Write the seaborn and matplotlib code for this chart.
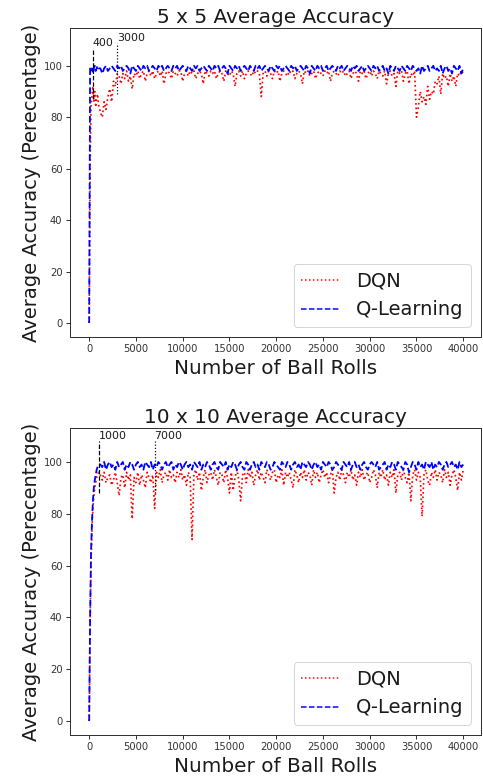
import numpy as np
import pandas as pd
import matplotlib
matplotlib.use("Agg")
import matplotlib.pyplot as plt
import seaborn as sns

# ---------------- data ----------------
early_x = [0, 100, 200, 300, 400, 500, 600, 700, 800, 900, 1000]
regular_x = list(range(1200, 40001, 200))
rolls = early_x + regular_x

dqn_5 = [0, 60, 85, 88, 92, 86, 90, 84, 87, 89, 85,
         82, 80, 86, 83, 88, 91, 86, 94, 92, 97,
         96, 93, 97, 95, 98, 94, 96, 91, 97, 96,
         98, 95, 97, 98, 94, 97, 98, 96, 98, 95,
         97, 98, 96, 98, 93, 97, 98, 97, 95, 98,
         97, 96, 98, 98, 94, 97, 98, 96, 98, 97,
         98, 95, 97, 98, 97, 93, 98, 97, 96, 98,
         97, 98, 95, 97, 98, 97, 94, 98, 97, 96,
         98, 97, 92, 97, 98, 96, 98, 95, 97, 98,
         97, 96, 98, 97, 98, 97, 88, 97, 98, 96,
         98, 97, 95, 98, 97, 98, 94, 97, 98, 97,
         96, 98, 97, 98, 95, 97, 98, 97, 93, 98,
         97, 98, 96, 97, 98, 95, 97, 98, 97, 96,
         98, 97, 98, 94, 97, 98, 97, 96, 98, 97,
         98, 96, 97, 98, 95, 97, 98, 97, 94, 98,
         97, 98, 95, 97, 98, 96, 98, 97, 95, 98,
         97, 96, 98, 93, 97, 98, 96, 97, 92, 98,
         97, 98, 94, 97, 98, 93, 97, 96, 98, 80,
         84, 90, 86, 88, 85, 92, 87, 90, 89, 94,
         93, 96, 89, 97, 95, 96, 92, 97, 94, 96,
         92, 97, 96, 98, 97]

qlearn_5 = [0, 99, 98, 99, 97, 99, 100, 98, 99, 100, 99,
            99, 97, 99, 100, 98, 99, 100, 99, 98, 100,
            99, 100, 98, 99, 100, 99, 97, 100, 99, 98,
            100, 99, 98, 100, 99, 100, 98, 99, 100, 99,
            98, 100, 99, 100, 98, 99, 100, 99, 98, 100,
            99, 100, 98, 99, 100, 99, 98, 100, 99, 98,
            100, 99, 100, 98, 99, 100, 99, 98, 100, 99,
            98, 100, 99, 100, 98, 99, 100, 99, 97, 100,
            99, 98, 100, 99, 100, 98, 99, 100, 99, 98,
            100, 99, 98, 100, 99, 100, 98, 99, 100, 99,
            98, 100, 99, 98, 100, 99, 100, 98, 99, 100,
            99, 98, 100, 99, 100, 98, 99, 100, 99, 98,
            100, 99, 97, 100, 99, 98, 100, 99, 100, 98,
            99, 100, 98, 99, 100, 99, 98, 100, 99, 100,
            98, 99, 100, 99, 98, 100, 99, 100, 98, 99,
            100, 98, 99, 100, 99, 98, 100, 99, 100, 98,
            99, 100, 98, 99, 97, 100, 99, 98, 100, 99,
            98, 100, 99, 98, 100, 99, 98, 100, 99, 98,
            99, 97, 100, 98, 99, 100, 98, 99, 100, 98,
            99, 98, 100, 97, 99, 100, 98, 99, 97, 100,
            99, 98, 100, 97, 99]

dqn_10 = [0, 38, 62, 74, 82, 87, 90, 92, 94, 95, 96,
          95, 93, 96, 92, 94, 95, 91, 93, 96, 92,
          87, 94, 95, 90, 96, 93, 95, 78, 94, 92,
          96, 91, 95, 93, 90, 96, 94, 92, 95, 82,
          96, 94, 97, 92, 95, 96, 93, 97, 94, 95,
          92, 96, 94, 97, 93, 95, 91, 96, 94, 70,
          95, 97, 93, 96, 89, 94, 97, 92, 95, 96,
          93, 97, 94, 91, 96, 95, 92, 97, 94, 88,
          96, 89, 94, 97, 93, 85, 95, 96, 92, 97,
          94, 96, 91, 95, 97, 93, 96, 94, 92, 97,
          95, 93, 96, 97, 92, 95, 94, 97, 91, 96,
          94, 96, 93, 90, 97, 95, 92, 96, 94, 97,
          93, 96, 95, 91, 97, 94, 96, 92, 95, 97,
          94, 96, 92, 95, 97, 88, 94, 96, 93, 97,
          95, 92, 96, 94, 97, 93, 95, 91, 96, 94,
          97, 93, 95, 96, 92, 94, 97, 95, 90, 96,
          94, 97, 93, 95, 91, 96, 94, 97, 88, 95,
          96, 93, 97, 94, 92, 96, 85, 95, 97, 93,
          96, 94, 79, 95, 97, 93, 91, 96, 94, 97,
          93, 96, 95, 92, 97, 94, 96, 91, 95, 97,
          94, 89, 96, 93, 97]

qlearn_10 = [0, 40, 65, 77, 85, 90, 93, 95, 97, 98, 99,
             99, 98, 100, 97, 99, 100, 98, 99, 97, 100,
             98, 99, 100, 97, 99, 98, 100, 99, 97, 99,
             100, 98, 99, 97, 100, 99, 98, 100, 97, 99,
             98, 100, 99, 97, 99, 100, 98, 99, 100, 97,
             99, 98, 100, 99, 97, 99, 100, 98, 99, 97,
             100, 99, 98, 100, 97, 99, 98, 100, 99, 97,
             99, 100, 98, 97, 100, 99, 98, 100, 97, 99,
             98, 100, 99, 97, 99, 100, 98, 97, 100, 99,
             97, 99, 100, 98, 99, 97, 100, 99, 98, 100,
             99, 97, 98, 100, 99, 98, 97, 100, 99, 98,
             100, 99, 97, 99, 100, 98, 99, 97, 100, 99,
             98, 100, 99, 97, 99, 100, 98, 99, 97, 100,
             99, 98, 100, 99, 97, 98, 100, 99, 98, 97,
             100, 99, 98, 100, 97, 99, 100, 98, 99, 97,
             99, 100, 98, 97, 99, 100, 99, 98, 100, 97,
             98, 99, 100, 97, 99, 98, 100, 99, 97, 100,
             99, 98, 97, 100, 99, 96, 98, 100, 99, 97,
             100, 98, 99, 97, 100, 99, 98, 100, 97, 99,
             98, 100, 99, 97, 99, 100, 98, 99, 100, 98,
             99, 97, 100, 98, 99]

# convergence markers: (x, low, high, label, style)
marks_5 = [(400, 87, 107, "400", "--"), (3000, 89, 109, "3000", ":")]
marks_10 = [(1000, 88, 108, "1000", "--"), (7000, 88, 108, "7000", ":")]

titles = ["5 x 5 Average Accuracy", "10 x 10 Average Accuracy"]

# ---------------- style ----------------
sns.set_style("ticks", {"axes.edgecolor": "0.2", "xtick.color": "0.2",
                        "ytick.color": "0.2", "text.color": "0.1",
                        "axes.labelcolor": "0.1"})
plt.rcParams['font.family'] = ['DejaVu Sans']

W, H, DPI = 483, 781, 72
fig = plt.figure(figsize=(W / DPI, H / DPI), dpi=DPI)

boxes = [(70, 28, 481, 337), (70, 428, 481, 735)]
ylims = [(-5.45, 114.7), (-5.4, 113.1)]
series = [(dqn_5, qlearn_5, marks_5), (dqn_10, qlearn_10, marks_10)]

for (l, t, r, b), ylim, (dqn, ql, marks), title in zip(boxes, ylims, series, titles):
    ax = fig.add_axes([l / W, 1 - b / H, (r - l) / W, (b - t) / H])
    df = pd.DataFrame({"rolls": rolls, "DQN": dqn, "Q-Learning": ql})
    sns.lineplot(data=df, x="rolls", y="DQN", ax=ax, color="red",
                 linestyle=":", linewidth=1.7, label="DQN")
    sns.lineplot(data=df, x="rolls", y="Q-Learning", ax=ax, color="blue",
                 linestyle="--", linewidth=1.8, label="Q-Learning")
    for x, lo, hi, txt, ls in marks:
        ax.vlines(x, lo, hi, colors="black", linestyles=ls, linewidth=1.2)
        ax.text(x, hi, txt, fontsize=11, ha="left", va="bottom", color="0.1")
    ax.set_xlim(-2050, 41900)
    ax.set_ylim(*ylim)
    ax.set_xticks(np.arange(0, 40001, 5000))
    ax.set_yticks(np.arange(0, 101, 20))
    ax.tick_params(labelsize=10, width=1, length=4)
    ax.set_title(title, fontsize=20, pad=5)
    ax.set_xlabel("Number of Ball Rolls", fontsize=20, labelpad=4)
    ax.set_ylabel("Average Accuracy (Perecentage)", fontsize=19.5, labelpad=3)
    for s in ax.spines.values():
        s.set_linewidth(1.0)
    leg = ax.legend(loc="lower right", fontsize=19.5, frameon=True)
    for h in leg.get_lines():
        h.set_linewidth(1.5)

fig.savefig("out.png", dpi=DPI)
